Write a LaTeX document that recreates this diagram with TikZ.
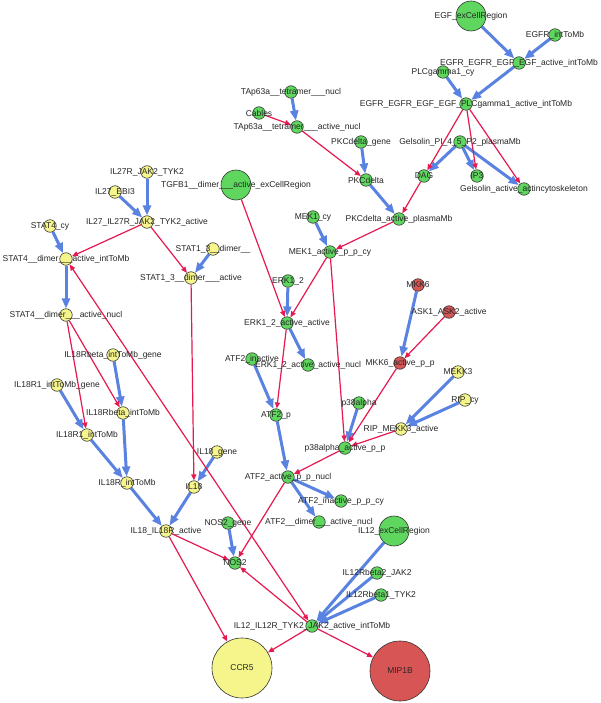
\documentclass[tikz,border=0pt]{standalone}
\usepackage{fontspec}
\setmainfont{Liberation Sans}
\usetikzlibrary{arrows.meta}
\definecolor{ngreen}{RGB}{95,215,95}
\definecolor{nyellow}{RGB}{245,245,140}
\definecolor{nred}{RGB}{215,85,85}
\definecolor{eblue}{RGB}{90,130,225}
\definecolor{ered}{RGB}{230,25,80}
\pgfdeclarelayer{back}
\pgfdeclarelayer{bg}
\pgfsetlayers{back,bg,main}
\tikzset{
 nd/.style={circle, draw=black!80, line width=0.6pt, minimum size=12.5pt, inner sep=0pt},
 gn/.style={nd, fill=ngreen},
 yn/.style={nd, fill=nyellow},
 rn/.style={nd, fill=nred},
 bignode/.style={minimum size=30pt},
 hugenode/.style={minimum size=60pt},
 lbl/.style={font=\fontsize{8.5}{10}\selectfont, inner sep=0pt, text=black!85},
 act/.style={draw=eblue, line width=3pt, -{Triangle[length=10pt,width=8pt]}},
 reg/.style={draw=ered, line width=1.2pt, -{Triangle[length=6pt,width=5pt]}},
 regboth/.style={draw=ered, line width=1.2pt, {Triangle[length=6pt,width=5pt]}-{Triangle[length=6pt,width=5pt]}},
}
\begin{document}
\begin{tikzpicture}[x=1pt,y=-1pt]
\begin{pgfonlayer}{back}
\fill[white] (0,0) rectangle (600,703);
\end{pgfonlayer}
\useasboundingbox (0,0) rectangle (600,703);
% nodes
\node[gn,bignode] (egf) at (471,16) {};
\node[gn] (egfr) at (555,35) {};
\node[gn] (egfra) at (519,63) {};
\node[gn] (plcc) at (443,72) {};
\node[gn] (plca) at (466,104) {};
\node[gn] (gels) at (460,142) {};
\node[gn] (dag) at (424,176) {};
\node[gn] (ip3) at (477,176) {};
\node[gn] (gela) at (524,189) {};
\node[gn] (tapn) at (291,92) {};
\node[gn] (cab) at (259,113) {};
\node[gn] (tapa) at (297,127) {};
\node[gn] (pkcg) at (361,142) {};
\node[gn] (pkc) at (366,180) {};
\node[gn] (pkca) at (399,219) {};
\node[gn,bignode] (tgfb) at (236,185) {};
\node[gn] (mek) at (313,217) {};
\node[gn] (meka) at (330,252) {};
\node[gn] (erk) at (288,281) {};
\node[gn] (erka) at (287,323) {};
\node[gn] (erkn) at (308,365) {};
\node[rn] (mkk6) at (418,285) {};
\node[rn] (ask) at (449,312) {};
\node[rn] (mkka) at (400,363) {};
\node[yn] (mekk3) at (458,372) {};
\node[yn] (rip) at (465,400) {};
\node[yn] (ripm) at (401,429) {};
\node[gn] (p38) at (359,403) {};
\node[gn] (p38a) at (345,448) {};
\node[gn] (atfi) at (252,359) {};
\node[gn] (atfp) at (276,415) {};
\node[gn] (atfa) at (288,477) {};
\node[gn] (atfc) at (341,501) {};
\node[gn] (atfd) at (319,522) {};
\node[gn,bignode] (il12e) at (394,531) {};
\node[gn] (il12b2) at (377,573) {};
\node[gn] (il12b1) at (381,595) {};
\node[gn] (il12) at (312,626) {};
\node[yn,hugenode] (ccr5) at (242,668) {};
\node[rn,hugenode] (mip) at (400,671) {};
\node[gn] (nos2g) at (228,523) {};
\node[gn] (nos2) at (235,563) {};
\node[yn] (il27r) at (147,172) {};
\node[yn] (ebi) at (115,192) {};
\node[yn] (il27) at (147,222) {};
\node[yn] (stat4c) at (50,226) {};
\node[yn] (stat4m) at (66,259) {};
\node[yn] (stat4n) at (66,315) {};
\node[yn] (stat13) at (213,249) {};
\node[yn] (stat13a) at (191,278) {};
\node[yn] (il18bg) at (113,355) {};
\node[yn] (il18r1g) at (57,385) {};
\node[yn] (il18b) at (123,413) {};
\node[yn] (il18r1) at (87,435) {};
\node[yn] (il18r) at (127,483) {};
\node[yn] (il18g) at (217,452) {};
\node[yn] (il18) at (194,487) {};
\node[yn] (il18a) at (166,531) {};
% edges
\begin{pgfonlayer}{bg}
\draw[act] (egf) -- (egfra);
\draw[act] (egfr) -- (egfra);
\draw[act] (egfra) -- (plca);
\draw[act] (plcc) -- (plca);
\draw[act] (gels) -- (dag);
\draw[act] (gels) -- (ip3);
\draw[act] (gels) -- (gela);
\draw[act] (tapn) -- (tapa);
\draw[act] (pkcg) -- (pkc);
\draw[act] (pkc) -- (pkca);
\draw[act] (mek) -- (meka);
\draw[act] (il27r) -- (il27);
\draw[act] (ebi) -- (il27);
\draw[act] (stat4c) -- (stat4m);
\draw[act] (stat4m) -- (stat4n);
\draw[act] (stat13) -- (stat13a);
\draw[act] (erk) -- (erka);
\draw[act] (erka) -- (erkn);
\draw[act] (atfi) -- (atfp);
\draw[act] (atfp) -- (atfa);
\draw[act] (atfa) -- (atfc);
\draw[act] (atfa) -- (atfd);
\draw[act] (mkk6) -- (mkka);
\draw[act] (mekk3) -- (ripm);
\draw[act] (rip) -- (ripm);
\draw[act] (p38) -- (p38a);
\draw[act] (il18bg) -- (il18b);
\draw[act] (il18r1g) -- (il18r1);
\draw[act] (il18r1) -- (il18r);
\draw[act] (il18b) -- (il18r);
\draw[act] (il18r) -- (il18a);
\draw[act] (il18g) -- (il18);
\draw[act] (il18) -- (il18a);
\draw[act] (nos2g) -- (nos2);
\draw[act] (il12e) -- (il12);
\draw[act] (il12b2) -- (il12);
\draw[act] (il12b1) -- (il12);
\draw[reg] (plca) -- (dag);
\draw[reg] (plca) -- (ip3);
\draw[reg] (plca) -- (gela);
\draw[reg] (dag) -- (pkca);
\draw[reg] (cab) -- (tapa);
\draw[reg] (tapa) -- (pkc);
\draw[reg] (pkca) -- (meka);
\draw[reg] (meka) -- (erka);
\draw[reg] (meka) -- (p38a);
\draw[reg] (tgfb) -- (erka);
\draw[reg] (erka) -- (atfp);
\draw[reg] (ask) -- (mkka);
\draw[reg] (mkka) -- (p38a);
\draw[reg] (ripm) -- (p38a);
\draw[reg] (p38a) -- (atfa);
\draw[reg] (il27) -- (stat4m);
\draw[reg] (il27) -- (stat13a);
\draw[reg] (stat13a) -- (il18);
\draw[reg] (stat4n) -- (il18r1);
\draw[reg] (stat4n) -- (il18b);
\draw[regboth] (il12) -- (stat4m);
\draw[reg] (il18a) -- (nos2);
\draw[reg] (il18a) -- (ccr5);
\draw[reg] (atfa) -- (nos2);
\draw[reg] (il12) -- (nos2);
\draw[reg] (il12) -- (ccr5);
\draw[reg] (il12) -- (mip);
\end{pgfonlayer}
% labels
\node[lbl] (t-egf) at (egf) {EGF\_exCellRegion};
\node[lbl] (t-egfr) at (egfr) {EGFR\_intToMb};
\node[lbl] (t-egfra) at (egfra) {EGFR\_EGFR\_EGF\_EGF\_active\_intToMb};
\node[lbl] (t-plcc) at (plcc) {PLCgamma1\_cy};
\node[lbl] (t-plca) at (plca) {EGFR\_EGFR\_EGF\_EGF\_PLCgamma1\_active\_intToMb};
\node[lbl] (t-gels) at (gels) {Gelsolin\_PI\_4\_5\_P2\_plasmaMb};
\node[lbl] (t-dag) at (dag) {DAG};
\node[lbl] (t-ip3) at (ip3) {IP3};
\node[lbl] (t-gela) at (gela) {Gelsolin\_active\_actincytoskeleton};
\node[lbl] (t-tapn) at (tapn) {TAp63a\_\_tetramer\_\_\_nucl};
\node[lbl] (t-cab) at (cab) {Cables};
\node[lbl] (t-tapa) at (tapa) {TAp63a\_\_tetramer\_\_\_active\_nucl};
\node[lbl] (t-pkcg) at (pkcg) {PKCdelta\_gene};
\node[lbl] (t-pkc) at (pkc) {PKCdelta};
\node[lbl] (t-pkca) at (pkca) {PKCdelta\_active\_plasmaMb};
\node[lbl] (t-tgfb) at (tgfb) {TGFB1\_\_dimer\_\_\_active\_exCellRegion};
\node[lbl] (t-mek) at (mek) {MEK1\_cy};
\node[lbl] (t-meka) at (meka) {MEK1\_active\_p\_p\_cy};
\node[lbl] (t-erk) at (erk) {ERK1\_2};
\node[lbl] (t-erka) at (erka) {ERK1\_2\_active\_active};
\node[lbl] (t-erkn) at (erkn) {ERK1\_2\_active\_active\_nucl};
\node[lbl] (t-mkk6) at (mkk6) {MKK6};
\node[lbl] (t-ask) at (ask) {ASK1\_ASK2\_active};
\node[lbl] (t-mkka) at (mkka) {MKK6\_active\_p\_p};
\node[lbl] (t-mekk3) at (mekk3) {MEKK3};
\node[lbl] (t-rip) at (rip) {RIP\_cy};
\node[lbl] (t-ripm) at (ripm) {RIP\_MEKK3\_active};
\node[lbl] (t-p38) at (p38) {p38alpha};
\node[lbl] (t-p38a) at (p38a) {p38alpha\_active\_p\_p};
\node[lbl] (t-atfi) at (atfi) {ATF2\_inactive};
\node[lbl] (t-atfp) at (atfp) {ATF2\_p};
\node[lbl] (t-atfa) at (atfa) {ATF2\_active\_p\_p\_nucl};
\node[lbl] (t-atfc) at (atfc) {ATF2\_inactive\_p\_p\_cy};
\node[lbl] (t-atfd) at (atfd) {ATF2\_\_dimer\_\_\_active\_nucl};
\node[lbl] (t-il12e) at (il12e) {IL12\_exCellRegion};
\node[lbl] (t-il12b2) at (il12b2) {IL12Rbeta2\_JAK2};
\node[lbl] (t-il12b1) at (il12b1) {IL12Rbeta1\_TYK2};
\node[lbl] (t-il12) at (il12) {IL12\_IL12R\_TYK2\_JAK2\_active\_intToMb};
\node[lbl] (t-ccr5) at (ccr5) {CCR5};
\node[lbl] (t-mip) at (mip) {MIP1B};
\node[lbl] (t-nos2g) at (nos2g) {NOS2\_gene};
\node[lbl] (t-nos2) at (nos2) {NOS2};
\node[lbl] (t-il27r) at (il27r) {IL27R\_JAK2\_TYK2};
\node[lbl] (t-ebi) at (ebi) {IL27\_EBI3};
\node[lbl] (t-il27) at (il27) {IL27\_IL27R\_JAK2\_TYK2\_active};
\node[lbl] (t-stat4c) at (stat4c) {STAT4\_cy};
\node[lbl] (t-stat4m) at (stat4m) {STAT4\_\_dimer\_\_\_active\_intToMb};
\node[lbl] (t-stat4n) at (stat4n) {STAT4\_\_dimer\_\_\_active\_nucl};
\node[lbl] (t-stat13) at (stat13) {STAT1\_3\_\_dimer\_\_};
\node[lbl] (t-stat13a) at (stat13a) {STAT1\_3\_\_dimer\_\_\_active};
\node[lbl] (t-il18bg) at (il18bg) {IL18Rbeta\_intToMb\_gene};
\node[lbl] (t-il18r1g) at (il18r1g) {IL18R1\_intToMb\_gene};
\node[lbl] (t-il18b) at (il18b) {IL18Rbeta\_intToMb};
\node[lbl] (t-il18r1) at (il18r1) {IL18R1\_intToMb};
\node[lbl] (t-il18r) at (il18r) {IL18R\_intToMb};
\node[lbl] (t-il18g) at (il18g) {IL18\_gene};
\node[lbl] (t-il18) at (il18) {IL18};
\node[lbl] (t-il18a) at (il18a) {IL18\_IL18R\_active};
\end{tikzpicture}
\end{document}
